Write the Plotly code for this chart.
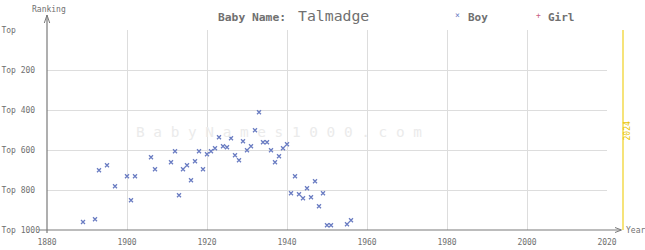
import plotly.graph_objects as go

# ---- data ----
boy_years = [1889, 1892, 1893, 1895, 1897, 1900, 1901, 1902, 1906, 1907,
             1911, 1912, 1913, 1914, 1915, 1916, 1917, 1918, 1919, 1920,
             1921, 1922, 1923, 1924, 1925, 1926, 1927, 1928, 1929, 1930,
             1931, 1932, 1933, 1934, 1935, 1936, 1937, 1938, 1939, 1940,
             1941, 1942, 1943, 1944, 1945, 1946, 1947, 1948, 1949, 1950,
             1951, 1955, 1956]
boy_ranks = [960, 946, 701, 676, 781, 731, 851, 731, 636, 696,
             661, 606, 826, 696, 676, 751, 656, 606, 696, 621,
             606, 591, 536, 581, 586, 541, 626, 651, 556, 601,
             581, 501, 411, 561, 561, 601, 661, 631, 591, 571,
             816, 731, 821, 841, 791, 836, 756, 881, 816, 976,
             976, 971, 951]
girl_years = []
girl_ranks = []

x_ticks = [1880, 1900, 1920, 1940, 1960, 1980, 2000, 2020]
y_ticks = [0, 200, 400, 600, 800, 1000]
y_labels = ["Top", "Top 200", "Top 400", "Top 600", "Top 800", "Top 1000"]
current_year = 2024
name = "Talmadge"

X_MIN, X_MAX = 1880, 2020
FONT = "DejaVu Sans Mono"
AXIS = "#7a7a7a"
TXT = "#707070"

# pad y labels with nbsp so they appear left-aligned in monospace
w = max(len(s) for s in y_labels)
y_text = [s + "\u00a0" * (w - len(s)) for s in y_labels]

fig = go.Figure()
fig.add_trace(go.Scatter(
    x=boy_years, y=boy_ranks, mode="markers", name="Boy",
    marker=dict(symbol="x-thin", size=4, color="#6a7cc2",
                line=dict(width=1.3, color="#6a7cc2")),
    showlegend=False, hoverinfo="x+y"))
fig.add_trace(go.Scatter(
    x=girl_years, y=girl_ranks, mode="markers", name="Girl",
    marker=dict(symbol="cross-thin", size=4, color="#c8607f",
                line=dict(width=1.3, color="#c8607f")),
    showlegend=False))

def px_x(px):
    return (px - 47) / 560.0

def px_y(py):
    return (230 - py) / 200.0

def note(text, x, y, size, color, xanchor="center", **kw):
    return dict(text=text, x=px_x(x), y=px_y(y), xref="paper", yref="paper",
                xanchor=xanchor, yanchor="middle", showarrow=False,
                font=dict(family=FONT, size=size, color=color), **kw)

ann = [
    note(" ".join("BabyNames1000.com"), 279, 132, 14.4, "#ebebeb"),
    note("<b>Baby Name:</b>", 216, 17, 11.3, TXT, "left"),
    note(name, 296, 16, 14.8, TXT, "left"),
    note("×", 458, 16, 8, "#6a7cc2"),
    note("<b>Boy</b>", 466, 17, 11, TXT, "left"),
    note("+", 538, 16, 8, "#c8607f"),
    note("<b>Girl</b>", 546, 17, 11, TXT, "left"),
    note("Ranking", 49, 9, 8, TXT),
    note("Year", 624, 230, 8, TXT, "left"),
]
cy = (current_year - X_MIN) / (X_MAX - X_MIN)
ann.append(dict(text=str(current_year), x=cy + 10 / 560.0, y=px_y(131), xref="paper",
                yref="paper", textangle=-90, showarrow=False,
                font=dict(family=FONT, size=8, color="#e8c400")))

shapes = [
    dict(type="line", xref="paper", yref="paper", x0=cy, x1=cy, y0=0, y1=1,
         line=dict(color="#f0d020", width=1.2)),
    dict(type="line", xref="paper", yref="paper", x0=px_x(39), x1=px_x(621), y0=0, y1=0,
         line=dict(color=AXIS, width=1.2)),
    dict(type="line", xref="paper", yref="paper", x0=0, x1=0, y0=px_y(233), y1=px_y(15),
         line=dict(color=AXIS, width=1.2)),
    dict(type="path", xref="paper", yref="paper",
         path=f"M {px_x(44.3)} {px_y(23)} L {px_x(47)} {px_y(15)} L {px_x(49.7)} {px_y(23)}",
         line=dict(color=AXIS, width=1)),
    dict(type="path", xref="paper", yref="paper",
         path=f"M {px_x(615)} {px_y(227.5)} L {px_x(621.5)} {px_y(230)} L {px_x(615)} {px_y(232.5)}",
         line=dict(color=AXIS, width=1)),
]

fig.update_layout(
    width=645, height=250,
    margin=dict(l=47, r=38, t=30, b=20),
    paper_bgcolor="white", plot_bgcolor="white",
    font=dict(family=FONT, size=8, color=TXT),
    annotations=ann, shapes=shapes,
    xaxis=dict(range=[X_MIN, X_MAX], tickvals=x_ticks, ticktext=[str(v) for v in x_ticks],
               showgrid=True, gridcolor="#dddddd", gridwidth=1, zeroline=False,
               showline=False, ticks="", automargin=False,
               tickfont=dict(family=FONT, size=8, color=TXT), ticklabelstandoff=6),
    yaxis=dict(range=[1000, 0], tickvals=y_ticks, ticktext=y_text,
               showgrid=True, gridcolor="#dddddd", gridwidth=1, zeroline=False,
               showline=False, ticks="", automargin=False,
               tickfont=dict(family=FONT, size=8, color=TXT), ticklabelstandoff=6),
)

fig.write_html("out.html")
